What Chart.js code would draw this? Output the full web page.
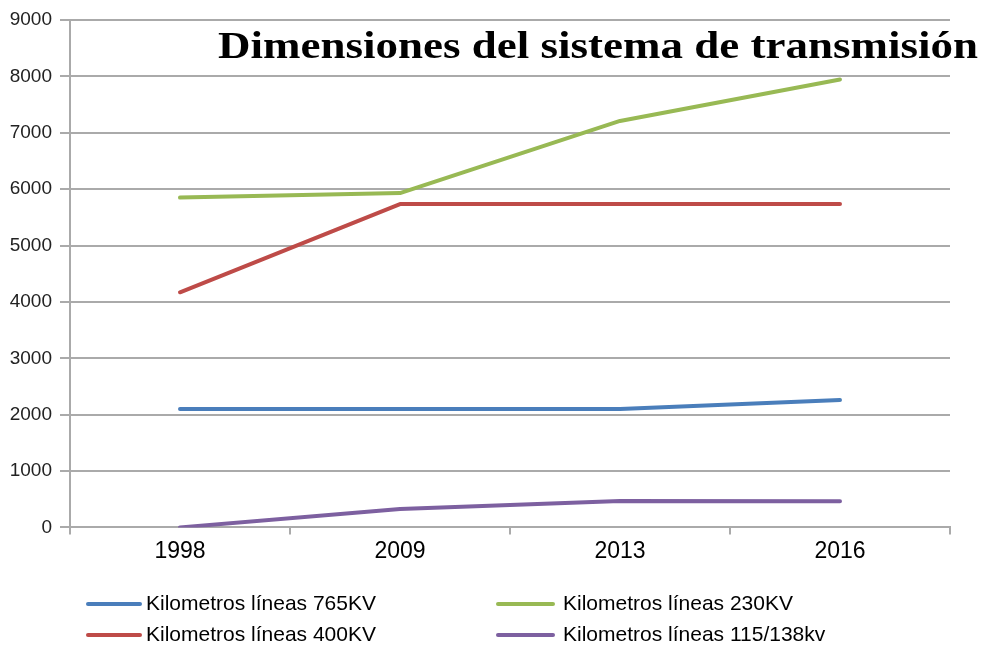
<!DOCTYPE html>
<html>
<head>
<meta charset="utf-8">
<script src="https://cdn.jsdelivr.net/npm/chart.js@4.4.1/dist/chart.umd.min.js"></script>
<style>
  html, body { margin: 0; padding: 0; background: #ffffff; }
  #wrap { width: 982px; height: 645px; position: relative; }
</style>
</head>
<body>
<div id="wrap"><canvas id="c" width="982" height="645"></canvas></div>
<script>
const titleText = "Dimensiones del sistema de transmisión";
const categories = ["1998", "2009", "2013", "2016"];
const yTicks = [0, 1000, 2000, 3000, 4000, 5000, 6000, 7000, 8000, 9000];

const seriesNames = [
  "Kilometros líneas 765KV",
  "Kilometros líneas 400KV",
  "Kilometros líneas 230KV",
  "Kilometros líneas 115/138kv"
];
const km765 = [2100, 2100, 2100, 2260];
const km400 = [4170, 5735, 5735, 5735];
const km230 = [5850, 5930, 7210, 7945];
const km115 = [0, 325, 470, 465];
const seriesColors = ["#4A7EBB", "#BE4B48", "#98B954", "#7D60A0"];

const seriesValues = [km765, km400, km230, km115];

const datasets = seriesNames.map((name, i) => ({
  label: name,
  data: seriesValues[i],
  borderColor: seriesColors[i],
  backgroundColor: seriesColors[i],
  borderWidth: 4,
  borderCapStyle: 'round',
  borderJoinStyle: 'round',
  pointRadius: 0,
  pointHoverRadius: 0,
  tension: 0,
  fill: false
}));

const titlePlugin = {
  id: 'overlayTitle',
  afterDraw(chart) {
    const ctx = chart.ctx;
    ctx.save();
    ctx.font = 'bold 37px "Liberation Serif", "DejaVu Serif", serif';
    ctx.fillStyle = '#000000';
    ctx.textAlign = 'left';
    ctx.textBaseline = 'alphabetic';
    const left = 218, right = 978;
    const w = ctx.measureText(titleText).width;
    const sx = (right - left) / w;
    ctx.translate(left, 58);
    ctx.scale(sx, 1);
    ctx.fillText(titleText, 0, 0);
    ctx.restore();
  }
};

const legendPlugin = {
  id: 'gridLegend',
  afterDraw(chart) {
    const ctx = chart.ctx;
    const cols = [{ x0: 88, x1: 140, tx: 146 }, { x0: 498, x1: 553, tx: 563 }];
    const rows = [604, 635];
    ctx.save();
    ctx.font = '21px "Liberation Sans", Arial, sans-serif';
    ctx.textBaseline = 'middle';
    ctx.textAlign = 'left';
    chart.data.datasets.forEach((ds, i) => {
      const col = cols[Math.floor(i / 2)];
      const y = rows[i % 2];
      ctx.strokeStyle = ds.borderColor;
      ctx.lineWidth = 4;
      ctx.lineCap = 'round';
      ctx.beginPath();
      ctx.moveTo(col.x0, y);
      ctx.lineTo(col.x1, y);
      ctx.stroke();
      ctx.fillStyle = '#000000';
      ctx.fillText(ds.label, col.tx, y);
    });
    ctx.restore();
  }
};

new Chart(document.getElementById('c'), {
  type: 'line',
  data: { labels: categories, datasets: datasets },
  options: {
    responsive: false,
    animation: false,
    devicePixelRatio: 1,
    layout: { padding: { left: 0, right: 32, top: 20, bottom: 77 } },
    plugins: {
      legend: { display: false },
      title: { display: false },
      tooltip: { enabled: false }
    },
    scales: {
      x: {
        offset: true,
        grid: {
          display: true,
          drawOnChartArea: false,
          drawTicks: true,
          tickLength: 7,
          color: '#aaaaaa',
          lineWidth: 2,
          offset: true
        },
        border: { display: true, color: '#aaaaaa', width: 2 },
        ticks: {
          color: '#000000',
          font: { family: '"Liberation Sans", Arial, sans-serif', size: 23 },
          padding: 3,
          maxRotation: 0
        }
      },
      y: {
        min: 0,
        max: 9000,
        afterBuildTicks(scale) { scale.ticks = yTicks.map(v => ({ value: v })); },
        afterFit(scale) { scale.width = 70; },
        grid: {
          color: '#aaaaaa',
          lineWidth: 2,
          drawTicks: true,
          tickLength: 10
        },
        border: { display: true, color: '#aaaaaa', width: 2 },
        ticks: {
          color: '#222222',
          font: { family: '"Liberation Sans", Arial, sans-serif', size: 19 },
          padding: 8,
          callback: (v) => String(v)
        }
      }
    }
  },
  plugins: [titlePlugin, legendPlugin]
});
</script>
</body>
</html>
